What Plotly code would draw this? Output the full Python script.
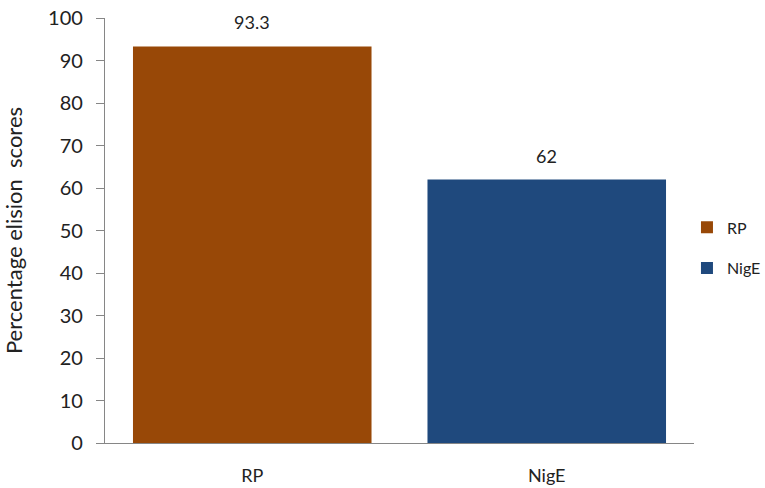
import plotly.graph_objects as go

categories = ["RP", "NigE"]
scores = [93.3, 62]
colors = ["#984807", "#1F497D"]

FONT = "Lato, Carlito, Calibri, sans-serif"

fig = go.Figure()
for i, (cat, val, col) in enumerate(zip(categories, scores, colors)):
    fig.add_trace(go.Bar(
        x=[cat], y=[val], name=cat, width=0.81,
        marker=dict(color=col, line=dict(width=0)),
        legendgroup=f"g{i}",
    ))
    fig.add_annotation(
        x=cat, y=val, text=f"{val:g}", showarrow=False,
        yshift=24, font=dict(family=FONT, size=18, color="#222222"),
    )

fig.update_layout(
    width=765, height=488,
    margin=dict(l=105, r=71, t=18, b=45, autoexpand=False),
    paper_bgcolor="white", plot_bgcolor="white",
    barmode="overlay",
    font=dict(family=FONT, color="#222222"),
    legend=dict(
        xref="container", yref="container",
        x=0.898, y=0.492, xanchor="left", yanchor="middle",
        font=dict(family=FONT, size=16, color="#222222"),
        tracegroupgap=17, itemwidth=30,
        bgcolor="rgba(0,0,0,0)",
    ),
    showlegend=True,
)
fig.update_xaxes(
    range=[-0.5, 1.5], showline=True, linecolor="#868686", linewidth=1.3,
    ticks="", tickfont=dict(family=FONT, size=18, color="#222222"),
    ticklabelstandoff=16, showgrid=False, automargin=False,
)
fig.update_yaxes(
    range=[0, 100], dtick=10, showline=True, linecolor="#868686", linewidth=1.3,
    ticks="outside", ticklen=8, tickcolor="#868686", tickwidth=1.3,
    tickfont=dict(family=FONT, size=20, color="#222222"),
    ticklabelstandoff=9,
    showgrid=False, zeroline=False, automargin=False,
    title=dict(text="Percentage elision  scores", standoff=26,
               font=dict(family=FONT, size=22, color="#222222")),
)

fig.write_html("out.html")
